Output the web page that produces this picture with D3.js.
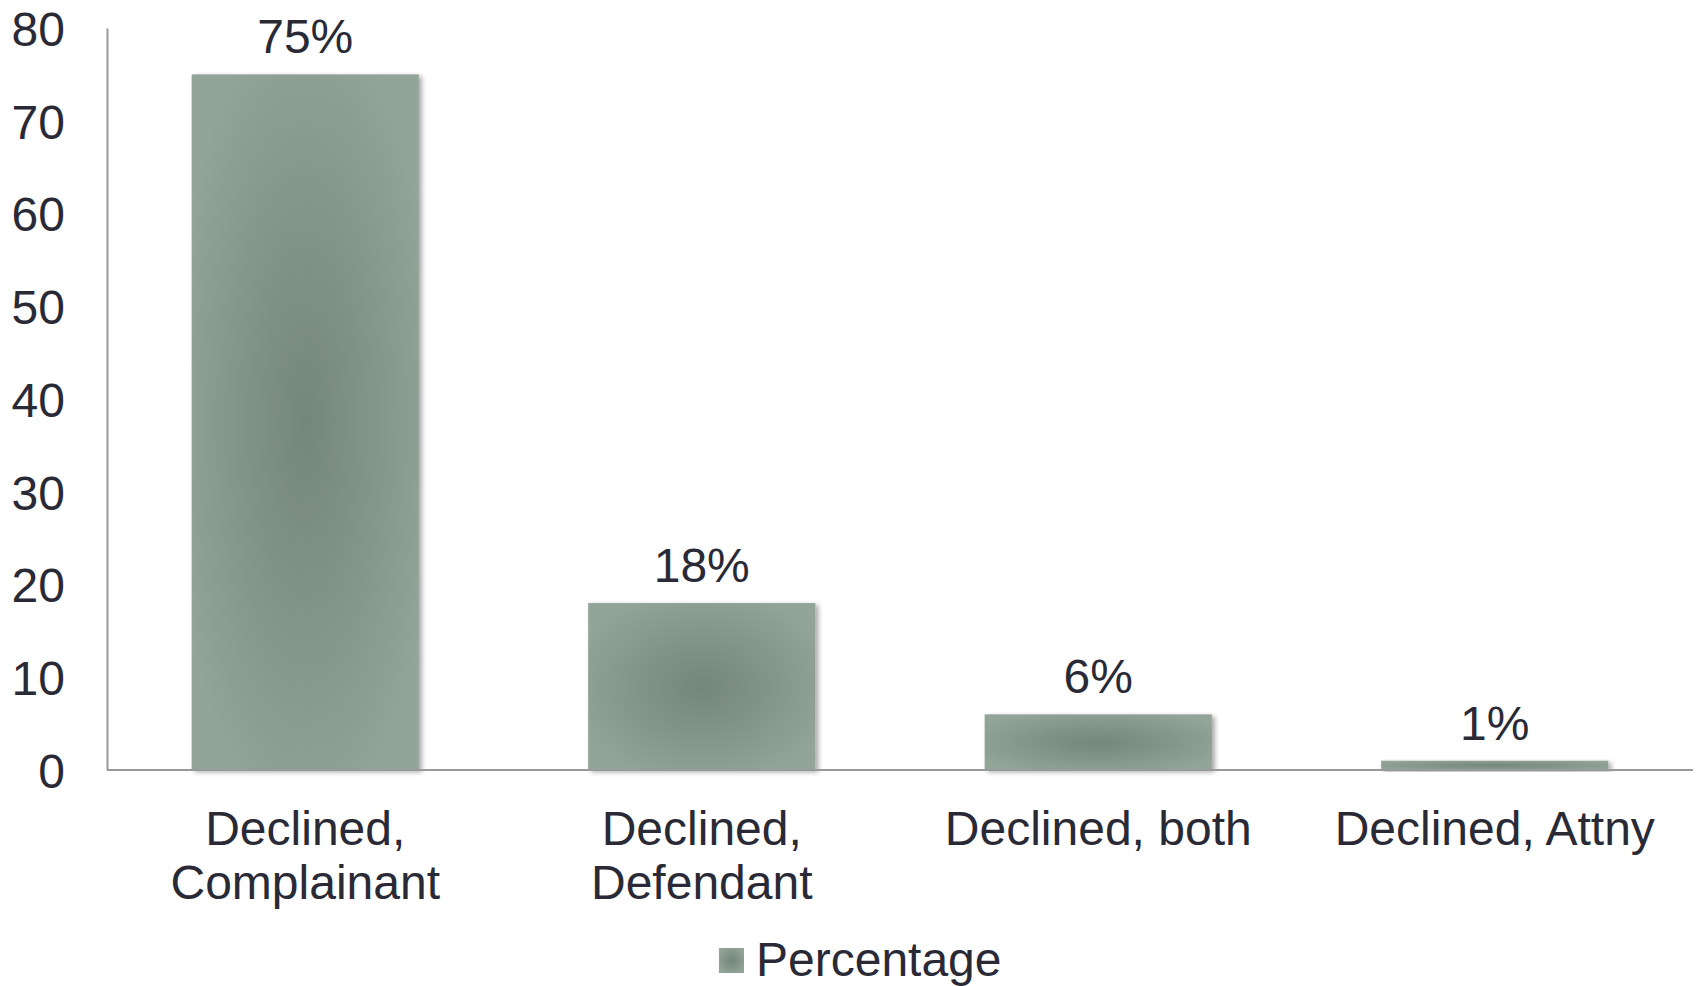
<!DOCTYPE html>
<html><head><meta charset="utf-8">
<script src="https://cdn.jsdelivr.net/npm/d3@7"></script>
<style>body{margin:0;background:#fff;} text{font-family:"Liberation Sans",Arial,sans-serif;fill:#2a2a36;}</style>
</head><body>
<svg id="c" width="1698" height="986"></svg>
<script>
const categories = [["Declined,","Complainant"],["Declined,","Defendant"],["Declined, both"],["Declined, Attny"]];
const values = [75, 18, 6, 1];
const labels = ["75%","18%","6%","1%"];
const yTicks = [0,10,20,30,40,50,60,70,80];
const seriesName = "Percentage";

(function(){
const svg = d3.select("#c");
const mLeft = 107, mRight = 1693, mTop = 28, mBottom = 770;
const fs = "48px";
const x = d3.scaleBand().domain(d3.range(values.length)).range([mLeft, mRight]).paddingInner(0.427).paddingOuter(0.2135);
const y = d3.scaleLinear().domain([0, 80]).range([mBottom, mTop]);

const defs = svg.append("defs");
const g = defs.append("radialGradient").attr("id","bg").attr("cx","50%").attr("cy","50%").attr("r","60%");
g.append("stop").attr("offset","0%").attr("stop-color","#748779");
g.append("stop").attr("offset","100%").attr("stop-color","#93a498");
const f = defs.append("filter").attr("id","sh").attr("x","-10%").attr("y","-10%").attr("width","130%").attr("height","130%");
f.append("feDropShadow").attr("dx",3).attr("dy",2).attr("stdDeviation",2.5).attr("flood-color","#000").attr("flood-opacity",0.35);

// y axis
const ya = svg.append("g").attr("transform",`translate(${mLeft},0)`)
  .call(d3.axisLeft(y).tickValues(yTicks).tickSize(0).tickPadding(42));
ya.select(".domain").attr("stroke","#999").attr("stroke-width",2);
ya.selectAll("text").style("font-size",fs).attr("fill","#2a2a36").attr("dy","0.36em");

// bars
svg.append("g").selectAll("rect").data(values).join("rect")
  .attr("x",(d,i)=>x(i)).attr("width",x.bandwidth())
  .attr("y",d=>y(d)).attr("height",d=>y(0)-y(d))
  .attr("fill","url(#bg)").attr("filter","url(#sh)");

// x axis baseline
svg.append("line").attr("x1",mLeft).attr("x2",mRight).attr("y1",y(0)).attr("y2",y(0)).attr("stroke","#999").attr("stroke-width",2);

// value labels
svg.append("g").selectAll("text").data(values).join("text")
  .attr("x",(d,i)=>x(i)+x.bandwidth()/2).attr("y",d=>y(d)-21)
  .attr("text-anchor","middle").style("font-size",fs).text((d,i)=>labels[i]);

// category labels
const cl = svg.append("g").selectAll("text").data(categories).join("text")
  .attr("text-anchor","middle").style("font-size",fs)
  .attr("x",(d,i)=>x(i)+x.bandwidth()/2).attr("y",845);
cl.selectAll("tspan").data(d=>d).join("tspan")
  .attr("x",function(){return this.parentNode.getAttribute("x");})
  .attr("dy",(d,i)=>i===0?0:54).text(d=>d);

// legend
const lg = svg.append("g");
lg.append("rect").attr("x",719).attr("y",948).attr("width",25).attr("height",25).attr("fill","url(#bg)");
lg.append("text").attr("x",756).attr("y",976).style("font-size",fs).text(seriesName);
})();
</script>
</body></html>
